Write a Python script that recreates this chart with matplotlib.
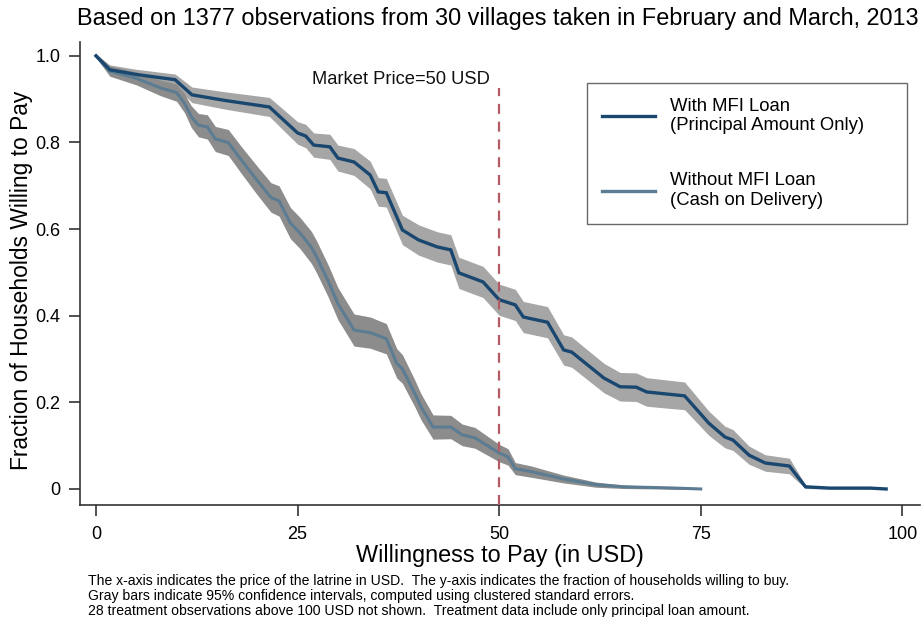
import matplotlib
matplotlib.use("Agg")
import matplotlib.pyplot as plt
from matplotlib.lines import Line2D
import numpy as np

plt.rcParams['font.family'] = ['Liberation Sans', 'DejaVu Sans']

# ---- data ----
treat_x = [0, 1.7, 5, 9.8, 11.9, 16, 21.5, 25, 26, 27, 29, 30, 32, 34, 35, 36, 38, 40, 42.3, 44,
           45, 48, 50, 52, 53, 56, 58, 59, 63, 65, 67, 68.3, 73, 76, 78, 79, 81, 83, 86, 88, 91, 96, 98]
treat_y = [1.0, 0.968, 0.957, 0.945, 0.91, 0.897, 0.882, 0.822, 0.815, 0.794, 0.79, 0.764, 0.755, 0.725,
           0.686, 0.684, 0.598, 0.575, 0.559, 0.552, 0.499, 0.478, 0.437, 0.425, 0.397, 0.385, 0.321,
           0.316, 0.256, 0.236, 0.235, 0.224, 0.215, 0.152, 0.12, 0.113, 0.078, 0.06, 0.053, 0.005,
           0.002, 0.002, 0.0]
treat_ci = [0.004, 0.011, 0.012, 0.013, 0.018, 0.02, 0.022, 0.026, 0.027, 0.028, 0.029, 0.03, 0.031,
            0.032, 0.033, 0.033, 0.034, 0.035, 0.035, 0.035, 0.036, 0.036, 0.036, 0.036, 0.036, 0.036,
            0.035, 0.035, 0.034, 0.033, 0.033, 0.033, 0.032, 0.028, 0.025, 0.024, 0.021, 0.019, 0.018,
            0.004, 0.002, 0.002, 0.0]

ctrl_x = [0, 1.7, 5, 8, 10, 11, 11.8, 12.7, 13.8, 14.8, 16.4, 18, 20, 21.7, 22.7, 24.1, 25.3, 26.7,
          27.3, 28.8, 30, 32, 34, 36, 37.3, 38, 39.5, 40.3, 41.8, 44, 45.4, 47, 50, 51.1, 52, 54,
          58, 62, 65.5, 70, 72, 75]
ctrl_y = [1.0, 0.965, 0.948, 0.926, 0.915, 0.89, 0.86, 0.84, 0.836, 0.808, 0.80, 0.76, 0.712, 0.673,
          0.665, 0.614, 0.591, 0.558, 0.538, 0.48, 0.428, 0.367, 0.361, 0.347, 0.29, 0.277, 0.222,
          0.19, 0.143, 0.143, 0.125, 0.118, 0.083, 0.074, 0.047, 0.04, 0.023, 0.01, 0.005, 0.003,
          0.002, 0.0]
ctrl_ci = [0.004, 0.012, 0.015, 0.018, 0.02, 0.022, 0.025, 0.027, 0.028, 0.029, 0.03, 0.031, 0.033,
           0.034, 0.035, 0.036, 0.036, 0.037, 0.037, 0.037, 0.037, 0.037, 0.036, 0.035, 0.034, 0.033,
           0.031, 0.03, 0.028, 0.027, 0.025, 0.024, 0.02, 0.019, 0.014, 0.013, 0.009, 0.006, 0.004,
           0.003, 0.003, 0.0]

market_price = 50
x_ticks = [0, 25, 50, 75, 100]
y_ticks = [0, 0.2, 0.4, 0.6, 0.8, 1.0]
y_ticklabels = ["0", "0.2", "0.4", "0.6", "0.8", "1.0"]

title = "Based on 1377 observations from 30 villages taken in February and March, 2013"
label_treat = "With MFI Loan\n(Principal Amount Only)"
label_ctrl = "Without MFI Loan\n(Cash on Delivery)"
note = ("The x-axis indicates the price of the latrine in USD.  The y-axis indicates the fraction of households willing to buy.\n"
        "Gray bars indicate 95% confidence intervals, computed using clustered standard errors.\n"
        "28 treatment observations above 100 USD not shown.  Treatment data include only principal loan amount.")

# ---- colours ----
c_treat = "#1a476f"
c_ctrl = "#5b7c92"
c_band_t = "#a6a6a6"
c_band_c = "#8c8c8c"
c_red = "#b35b64"

fig = plt.figure(figsize=(9.23, 6.17), dpi=100)
ax = fig.add_axes([80/923, 1-505/617, 840/923, 463/617])

tx, ty, tc = np.array(treat_x), np.array(treat_y), np.array(treat_ci)
cx, cy, cc = np.array(ctrl_x), np.array(ctrl_y), np.array(ctrl_ci)

ax.fill_between(tx, ty - tc, ty + tc, color=c_band_t, lw=0, zorder=1)
ax.fill_between(cx, cy - cc, cy + cc, color=c_band_c, lw=0, zorder=2)
ax.plot(cx, cy, color=c_ctrl, lw=2.2, zorder=3, solid_joinstyle='miter')
ax.plot(tx, ty, color=c_treat, lw=2.4, zorder=4, solid_joinstyle='miter')

ax.plot([market_price, market_price], [-0.037, 0.925], color=c_red, lw=1.6,
        dashes=(4.5, 3.5), zorder=5)
ax.text(market_price - 1.1, 0.945, "Market Price=50 USD", ha='right', va='center',
        fontsize=13.2, color='#111111')

ax.set_xlim(-1.99, 102.2)
ax.set_ylim(-0.037, 1.032)
ax.set_xticks(x_ticks)
ax.set_yticks(y_ticks)
ax.set_yticklabels(y_ticklabels)
ax.tick_params(axis='both', direction='out', length=8, width=1.2, color='#333333',
               labelsize=13, pad=6)
ax.tick_params(axis='x', pad=7)
for s in ['top', 'right']:
    ax.spines[s].set_visible(False)
for s in ['left', 'bottom']:
    ax.spines[s].set_linewidth(1.2)
    ax.spines[s].set_color('#333333')

ax.set_xlabel("Willingness to Pay (in USD)", fontsize=16.8, labelpad=0.5)
ax.set_ylabel("Fraction of Households Willing to Pay", fontsize=16.4)
ax.yaxis.set_label_coords(-0.056, 0.486)

fig.text(498/923, 1-18/617, title, ha='center', va='center', fontsize=16.9)
fig.text(88/923, 1-574/617, note, ha='left', va='top', fontsize=10.1, linespacing=1.07)

handles = [Line2D([], [], color=c_treat, lw=2.4), Line2D([], [], color=c_ctrl, lw=2.4)]
leg = ax.legend(handles, [label_treat, label_ctrl], loc='upper left',
                bbox_to_anchor=(0.6036, 0.6177, 0.381, 0.2937), mode='expand',
                fontsize=13.3, frameon=True, fancybox=False, edgecolor='#444444',
                handlelength=2.9, handletextpad=0.8, labelspacing=2.05, borderpad=0.8,
                borderaxespad=0)
leg.get_frame().set_linewidth(1.0)

fig.savefig("out.png", dpi=100)
